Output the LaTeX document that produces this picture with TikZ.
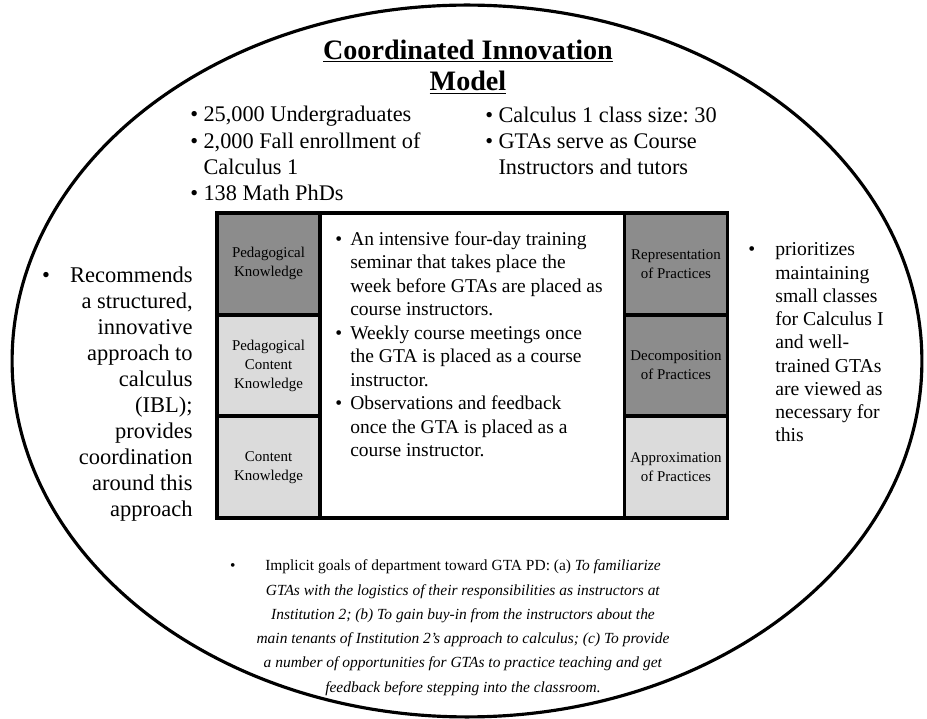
\documentclass[tikz,border=0pt]{standalone}
\usepackage{fontspec}
\setmainfont{Liberation Serif}
\frenchspacing
\definecolor{celldark}{gray}{0.55}
\definecolor{celllight}{gray}{0.86}
% bullet with a fixed indent, and the same indent without bullet
\newcommand{\itm}[1][7.5pt]{\makebox[#1][l]{\textbullet}}
\newcommand{\gap}[1][7.5pt]{\makebox[#1]{}}

\begin{document}
\begin{tikzpicture}[x=0.02cm,y=-0.02cm,
  every node/.style={inner sep=0pt},
  cell/.style={draw,line width=2.2pt,minimum width=2.06cm,minimum height=2.03cm,align=center,font=\fontsize{8.5}{10.8}\selectfont},
  dark/.style={cell,fill=celldark},
  light/.style={cell,fill=celllight}]
\useasboundingbox (0,0) rectangle (927,719);
\draw[line width=1.8pt] (467,361) ellipse [x radius=9.1cm, y radius=7.12cm];

% multi-line nodes sit on the baseline of their last line
\node[font=\fontsize{16}{18.2}\selectfont\bfseries,align=center,anchor=base] (title) at (468,91) {\underline{Coordinated Innovation}\\\underline{Model}};

% numbers about the institution
\node[font=\fontsize{12.7}{15}\selectfont,align=left,anchor=base west] (facts) at (190,201) {\itm 25,000 Undergraduates\\\itm 2,000 Fall enrollment of\\\gap Calculus 1\\\itm 138 Math PhDs};
\node[font=\fontsize{12.7}{15}\selectfont,align=left,anchor=base west] (classes) at (485,175) {\itm Calculus 1 class size: 30\\\itm GTAs serve as Course\\\gap Instructors and tutors};

% the frame with knowledge and practice cells
\node[draw,line width=2.4pt,minimum width=10.2cm,minimum height=6.1cm] (frame) at (472,365.5) {};
\node[dark] (pk) at (268.5,263.8) {Pedagogical\\Knowledge};
\node[light] (pck) at (268.5,365.5) {Pedagogical\\Content\\Knowledge};
\node[light] (ck) at (268.5,467.2) {Content\\Knowledge};
\node[dark] (rep) at (676,263.8) {Representation\\of Practices};
\node[dark] (dec) at (676,365.5) {Decomposition\\of Practices};
\node[light] (app) at (676,467.2) {Approximation\\of Practices};

\node[font=\fontsize{11.1}{13.4}\selectfont,align=left,anchor=base west] (training) at (335,457) {\itm[8.5pt]An intensive four-day training\\\gap[8.5pt]seminar that takes place the\\\gap[8.5pt]week before GTAs are placed as\\\gap[8.5pt]course instructors.\\\itm[8.5pt]Weekly course meetings once\\\gap[8.5pt]the GTA is placed as a course\\\gap[8.5pt]instructor.\\\itm[8.5pt]Observations and feedback\\\gap[8.5pt]once the GTA is placed as a\\\gap[8.5pt]course instructor.};

% side notes
\node[font=\fontsize{12.8}{14.8}\selectfont,align=right,anchor=base east] (ibl) at (193,517) {\llap{\textbullet\hspace{11.5pt}}Recommends\\a structured,\\innovative\\approach to\\calculus\\(IBL);\\provides\\coordination\\around this\\approach};
\node[font=\fontsize{11.2}{13.25}\selectfont,align=left,anchor=base west] (small) at (775,442) {\llap{\textbullet\hspace{11.4pt}}prioritizes\\maintaining\\small classes\\for Calculus I\\and well-\\trained GTAs\\are viewed as\\necessary for\\this};

\node[font=\fontsize{8.8}{13.8}\selectfont,align=center,anchor=base] (goals) at (463,692) {\llap{\textbullet\hspace{17pt}}Implicit goals of department toward GTA PD: (a) \textit{To familiarize}\\\textit{GTAs with the logistics of their responsibilities as instructors at}\\\textit{Institution 2; (b) To gain buy-in from the instructors about the}\\\textit{main tenants of Institution 2's approach to calculus; (c) To provide}\\\textit{a number of opportunities for GTAs to practice teaching and get}\\\textit{feedback before stepping into the classroom.}};
\end{tikzpicture}
\end{document}
